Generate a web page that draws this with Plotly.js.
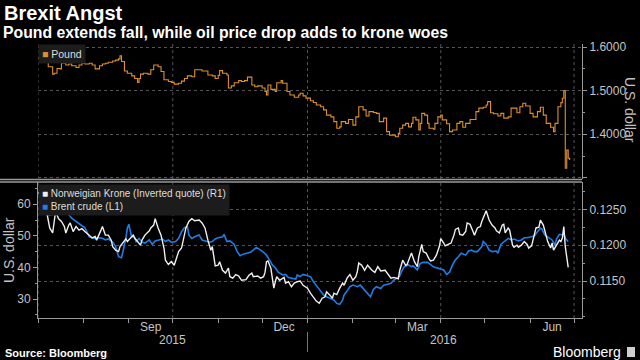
<!DOCTYPE html>
<html>
<head>
<meta charset="utf-8">
<script src="https://cdn.plot.ly/plotly-3.0.1.min.js"></script>
<style>html,body{margin:0;padding:0;background:#000;}#chart{width:640px;height:360px;}</style>
</head>
<body>
<div id="chart"></div>
<script>
// ---------------- DATA ----------------
const poundDates = ['2015-07-01','2015-07-04','2015-07-08','2015-07-11','2015-07-12','2015-07-14','2015-07-16','2015-07-17','2015-07-20','2015-07-22','2015-07-24','2015-07-27','2015-07-29','2015-07-31',
'2015-08-02','2015-08-05','2015-08-07','2015-08-09','2015-08-12','2015-08-14','2015-08-16','2015-08-18','2015-08-21','2015-08-23','2015-08-25','2015-08-26','2015-08-27','2015-08-29','2015-08-31',
'2015-09-03','2015-09-05','2015-09-07','2015-09-08','2015-09-09','2015-09-11','2015-09-14','2015-09-16','2015-09-18','2015-09-21','2015-09-23','2015-09-25','2015-09-28','2015-09-30',
'2015-10-02','2015-10-05','2015-10-07','2015-10-09','2015-10-11','2015-10-14','2015-10-16','2015-10-18','2015-10-21','2015-10-23','2015-10-25','2015-10-28','2015-10-30',
'2015-11-01','2015-11-02','2015-11-04','2015-11-07','2015-11-08','2015-11-10','2015-11-12','2015-11-15','2015-11-17','2015-11-19','2015-11-21','2015-11-24','2015-11-26','2015-11-28',
'2015-12-01','2015-12-03','2015-12-04','2015-12-05','2015-12-07','2015-12-10','2015-12-11','2015-12-14','2015-12-15','2015-12-18','2015-12-20','2015-12-22','2015-12-23','2015-12-26','2015-12-27','2015-12-29','2015-12-31',
'2016-01-03','2016-01-05','2016-01-07','2016-01-10','2016-01-12','2016-01-14','2016-01-17','2016-01-19','2016-01-21','2016-01-23','2016-01-24','2016-01-27','2016-01-29',
'2016-02-01','2016-02-03','2016-02-05','2016-02-08','2016-02-10','2016-02-12','2016-02-15','2016-02-17','2016-02-19','2016-02-22','2016-02-24','2016-02-26','2016-02-29',
'2016-03-01','2016-03-03','2016-03-04','2016-03-06','2016-03-08','2016-03-10','2016-03-12','2016-03-13','2016-03-15','2016-03-17','2016-03-18','2016-03-19','2016-03-21','2016-03-23','2016-03-24','2016-03-27','2016-03-28','2016-03-30',
'2016-04-01','2016-04-02','2016-04-05','2016-04-07','2016-04-09','2016-04-12','2016-04-14','2016-04-16','2016-04-18','2016-04-21','2016-04-23','2016-04-25','2016-04-27','2016-04-30',
'2016-05-02','2016-05-03','2016-05-05','2016-05-07','2016-05-10','2016-05-12','2016-05-14','2016-05-17','2016-05-19','2016-05-21','2016-05-23','2016-05-25','2016-05-27','2016-05-29',
'2016-06-01','2016-06-03','2016-06-06','2016-06-08','2016-06-10','2016-06-12','2016-06-15','2016-06-17','2016-06-18','2016-06-20','2016-06-22','2016-06-23','2016-06-24','2016-06-25','2016-06-26','2016-06-27','2016-06-28'];
const poundValues = [1.574,1.567,1.555,1.538,1.540,1.551,1.550,1.563,1.559,1.561,1.557,1.553,1.559,1.563,
1.561,1.563,1.559,1.550,1.557,1.561,1.563,1.565,1.568,1.570,1.573,1.580,1.567,1.545,1.540,
1.534,1.528,1.519,1.528,1.538,1.540,1.538,1.548,1.559,1.555,1.544,1.525,1.521,1.519,
1.515,1.517,1.522,1.528,1.534,1.532,1.548,1.548,1.545,1.545,1.536,1.534,1.528,
1.535,1.546,1.540,1.536,1.506,1.511,1.518,1.523,1.521,1.523,1.531,1.513,1.509,1.511,
1.506,1.498,1.490,1.513,1.503,1.498,1.518,1.523,1.517,1.498,1.490,1.490,1.485,1.490,1.494,1.488,1.483,
1.477,1.473,1.467,1.463,1.456,1.444,1.440,1.429,1.414,1.417,1.429,1.425,1.434,
1.421,1.440,1.463,1.456,1.442,1.452,1.450,1.448,1.429,1.437,1.406,1.398,1.398,
1.3945,1.402,1.414,1.421,1.425,1.417,1.425,1.439,1.433,1.410,1.425,1.448,1.444,1.425,1.414,1.4115,1.425,1.440,
1.444,1.433,1.424,1.406,1.410,1.425,1.429,1.416,1.425,1.434,1.434,1.452,1.460,1.462,
1.467,1.475,1.4495,1.447,1.442,1.448,1.437,1.440,1.460,1.460,1.4495,1.463,1.471,1.465,
1.448,1.440,1.452,1.462,1.444,1.425,1.416,1.406,1.425,1.463,1.4725,1.4826,1.500,1.322,1.364,1.345,1.341];

const brentDates = ['2015-07-01','2015-07-04','2015-07-06','2015-07-08','2015-07-11','2015-07-13','2015-07-15','2015-07-17','2015-07-20','2015-07-22','2015-07-24','2015-07-27','2015-07-29','2015-07-31',
'2015-08-02','2015-08-05','2015-08-07','2015-08-09','2015-08-12','2015-08-14','2015-08-16','2015-08-18','2015-08-21','2015-08-23','2015-08-25','2015-08-27','2015-08-28','2015-08-30','2015-08-31',
'2015-09-01','2015-09-03','2015-09-04','2015-09-06','2015-09-08','2015-09-10','2015-09-12','2015-09-15','2015-09-17','2015-09-19','2015-09-21','2015-09-24','2015-09-26','2015-09-28','2015-09-30',
'2015-10-03','2015-10-05','2015-10-07','2015-10-09','2015-10-11','2015-10-12','2015-10-14','2015-10-16','2015-10-19','2015-10-21','2015-10-23','2015-10-26','2015-10-28','2015-10-30',
'2015-11-01','2015-11-04','2015-11-05','2015-11-07','2015-11-09','2015-11-12','2015-11-14','2015-11-16','2015-11-18','2015-11-21','2015-11-23','2015-11-25','2015-11-27','2015-11-29',
'2015-12-01','2015-12-04','2015-12-05','2015-12-08','2015-12-10','2015-12-12','2015-12-15','2015-12-17','2015-12-19','2015-12-21','2015-12-24','2015-12-25','2015-12-27','2015-12-29',
'2016-01-01','2016-01-03','2016-01-05','2016-01-07','2016-01-10','2016-01-12','2016-01-14','2016-01-17','2016-01-19','2016-01-21','2016-01-23','2016-01-25','2016-01-26','2016-01-28','2016-01-30',
'2016-02-01','2016-02-04','2016-02-06','2016-02-08','2016-02-11','2016-02-13','2016-02-15','2016-02-17','2016-02-20','2016-02-22','2016-02-24','2016-02-27','2016-02-29',
'2016-03-02','2016-03-04','2016-03-05','2016-03-07','2016-03-10','2016-03-12','2016-03-13','2016-03-16','2016-03-18','2016-03-20','2016-03-23','2016-03-25','2016-03-27','2016-03-29',
'2016-04-01','2016-04-03','2016-04-05','2016-04-07','2016-04-09','2016-04-11','2016-04-13','2016-04-15','2016-04-18','2016-04-20','2016-04-22','2016-04-24','2016-04-26','2016-04-29','2016-04-30',
'2016-05-02','2016-05-04','2016-05-06','2016-05-09','2016-05-10','2016-05-12','2016-05-14','2016-05-17','2016-05-19','2016-05-21','2016-05-24','2016-05-26','2016-05-28','2016-05-30',
'2016-06-02','2016-06-04','2016-06-06','2016-06-08','2016-06-09','2016-06-11','2016-06-13','2016-06-16','2016-06-18','2016-06-19','2016-06-21','2016-06-23','2016-06-24','2016-06-25','2016-06-27'];
const brentValues = [63.8,61.9,59.6,56.6,56.8,58.2,57.5,57.9,57.1,56.8,55.6,54.5,53.7,53.2,
52.6,49.7,49.4,49.2,49.4,49.2,48.7,49.0,48.0,46.6,43.4,43.1,45.0,49.2,52.4,
53.7,49.4,50.3,48.2,49.2,48.0,47.7,48.7,47.3,48.4,48.7,49.0,48.2,48.7,48.0,
48.2,49.2,51.3,52.6,52.9,50.3,49.2,49.7,50.3,48.7,48.4,48.0,48.2,49.0,
49.4,49.7,50.5,48.2,48.4,47.3,45.0,43.7,44.2,44.5,44.8,45.5,46.3,45.8,
45.2,43.9,43.1,40.8,39.9,38.5,37.6,37.8,36.8,36.6,36.3,37.6,37.1,37.8,
37.4,37.1,35.5,34.4,32.5,31.3,30.7,30.2,29.7,28.6,28.3,29.7,31.3,32.5,33.9,
34.4,33.9,34.4,33.3,31.8,30.7,33.0,33.9,33.3,34.4,34.6,35.0,36.0,
36.6,37.3,38.5,40.2,40.8,40.2,40.5,39.2,41.3,41.6,41.6,40.8,40.2,39.9,
39.5,39.2,37.8,38.5,40.8,42.4,43.4,44.5,43.9,45.2,45.5,45.0,45.0,46.6,48.2,
47.3,45.5,45.0,45.2,44.5,47.3,48.0,49.2,48.7,49.0,48.4,48.7,49.4,49.4,
49.7,50.0,51.3,52.4,52.2,50.3,49.7,48.7,47.1,49.0,50.5,50.3,50.8,49.2,48.2];

const kroneDates = ['2015-07-01','2015-07-04','2015-07-06','2015-07-08','2015-07-09','2015-07-11','2015-07-12','2015-07-13','2015-07-15','2015-07-17','2015-07-19','2015-07-20','2015-07-22','2015-07-23','2015-07-25','2015-07-27','2015-07-29','2015-07-31',
'2015-08-02','2015-08-05','2015-08-07','2015-08-09','2015-08-10','2015-08-13','2015-08-14','2015-08-16','2015-08-18','2015-08-20','2015-08-21','2015-08-23','2015-08-25','2015-08-26','2015-08-28','2015-08-30','2015-08-31',
'2015-09-02','2015-09-04','2015-09-05','2015-09-07','2015-09-09','2015-09-10','2015-09-12','2015-09-15','2015-09-16','2015-09-18','2015-09-19','2015-09-21','2015-09-23','2015-09-25','2015-09-26','2015-09-28','2015-09-30',
'2015-10-02','2015-10-03','2015-10-05','2015-10-07','2015-10-08','2015-10-10','2015-10-12','2015-10-14','2015-10-16','2015-10-19','2015-10-21','2015-10-23','2015-10-25','2015-10-27','2015-10-28','2015-10-30',
'2015-11-01','2015-11-02','2015-11-04','2015-11-06','2015-11-08','2015-11-09','2015-11-11','2015-11-13','2015-11-15','2015-11-17','2015-11-20','2015-11-22','2015-11-24','2015-11-25','2015-11-28','2015-11-30',
'2015-12-02','2015-12-03','2015-12-04','2015-12-05','2015-12-07','2015-12-08','2015-12-09','2015-12-10','2015-12-11','2015-12-13','2015-12-16','2015-12-17','2015-12-19','2015-12-21','2015-12-23','2015-12-25','2015-12-27','2015-12-29',
'2016-01-01','2016-01-03','2016-01-05','2016-01-07','2016-01-09','2016-01-11','2016-01-13','2016-01-14','2016-01-16','2016-01-18','2016-01-19','2016-01-21','2016-01-23','2016-01-25','2016-01-26','2016-01-28','2016-01-30',
'2016-02-01','2016-02-03','2016-02-04','2016-02-05','2016-02-07','2016-02-09','2016-02-11','2016-02-14','2016-02-16','2016-02-18','2016-02-20','2016-02-23','2016-02-25','2016-02-27','2016-02-29',
'2016-03-03','2016-03-04','2016-03-06','2016-03-08','2016-03-09','2016-03-11','2016-03-12','2016-03-14','2016-03-16','2016-03-17','2016-03-19','2016-03-20','2016-03-22','2016-03-24','2016-03-25','2016-03-27','2016-03-29','2016-03-31',
'2016-04-01','2016-04-03','2016-04-04','2016-04-06','2016-04-08','2016-04-10','2016-04-11','2016-04-13','2016-04-14','2016-04-16','2016-04-18','2016-04-19','2016-04-21','2016-04-23','2016-04-24','2016-04-26','2016-04-28','2016-04-29',
'2016-05-01','2016-05-02','2016-05-04','2016-05-06','2016-05-08','2016-05-09','2016-05-11','2016-05-13','2016-05-14','2016-05-15','2016-05-17','2016-05-18','2016-05-20','2016-05-21','2016-05-23','2016-05-24','2016-05-26','2016-05-28','2016-05-30','2016-05-31',
'2016-06-02','2016-06-04','2016-06-05','2016-06-07','2016-06-08','2016-06-10','2016-06-12','2016-06-13','2016-06-15','2016-06-16','2016-06-17','2016-06-19','2016-06-21','2016-06-22','2016-06-23','2016-06-24','2016-06-25','2016-06-27'];
const kroneValues = [0.1274,0.1266,0.1256,0.1237,0.1224,0.1217,0.1233,0.1247,0.1237,0.1233,0.1226,0.1217,0.1228,0.1231,0.1219,0.1226,0.1221,0.1223,
0.1219,0.1214,0.1210,0.1212,0.1207,0.1221,0.1226,0.1214,0.1214,0.1207,0.1198,0.1193,0.1191,0.1198,0.1203,0.1209,0.1205,
0.1210,0.1214,0.1210,0.1205,0.1200,0.1207,0.1214,0.1220,0.1224,0.1228,0.1237,0.1224,0.1214,0.1196,0.1179,0.1173,0.1177,
0.1172,0.1179,0.1191,0.1196,0.1207,0.1224,0.1233,0.1237,0.1234,0.1235,0.1231,0.1224,0.1207,0.1193,0.1198,0.1171,
0.1172,0.1177,0.1165,0.1161,0.1168,0.1156,0.1154,0.1159,0.1157,0.1151,0.1152,0.1158,0.1161,0.1156,0.1157,0.1154,
0.1156,0.1162,0.1177,0.1178,0.1168,0.1154,0.1140,0.1149,0.1156,0.1151,0.1155,0.1147,0.1149,0.1142,0.1147,0.1149,0.1150,0.1144,
0.1140,0.1133,0.1128,0.1122,0.1119,0.1126,0.1128,0.1135,0.1131,0.1126,0.1133,0.1131,0.1140,0.1147,0.1144,0.1154,0.1159,
0.1151,0.1156,0.1163,0.1175,0.1172,0.1165,0.1172,0.1165,0.1162,0.1170,0.1164,0.1165,0.1159,0.1154,0.1155,
0.1153,0.1165,0.1179,0.1172,0.1173,0.1184,0.1189,0.1177,0.1170,0.1184,0.1201,0.1191,0.1189,0.1181,0.1178,0.1179,0.1186,0.1198,
0.1209,0.1203,0.1199,0.1201,0.1203,0.1214,0.1222,0.1224,0.1215,0.1214,0.1219,0.1231,0.1229,0.1219,0.1214,0.1224,0.1226,0.1233,
0.1242,0.1248,0.1235,0.1228,0.1224,0.1220,0.1217,0.1228,0.1229,0.1217,0.1224,0.1221,0.1200,0.1197,0.1200,0.1197,0.1200,0.1205,0.1201,0.1196,
0.1199,0.1214,0.1224,0.1225,0.1235,0.1228,0.1214,0.1205,0.1196,0.1203,0.1193,0.1200,0.1207,0.1205,0.1210,0.1226,0.1198,0.1169];

// axis ticks and labels
const monthStarts = ['2015-07-01','2015-08-01','2015-09-01','2015-10-01','2015-11-01','2015-12-01','2016-01-01','2016-02-01','2016-03-01','2016-04-01','2016-05-01','2016-06-01','2016-07-01'];
const quarterStarts = ['2015-07-01','2015-10-01','2016-01-01','2016-04-01','2016-07-01'];
const monthLabelPos = ['2015-09-16','2015-12-16','2016-03-16','2016-06-16'];
const monthLabels = ['Sep','Dec','Mar','Jun'];
const yearLabels = ['2015','2016'];
const yearLabelPos = ['2015-09-30 12:00','2016-04-03'];
const yearBreak = '2016-01-01';
const poundTicks = [1.3,1.4,1.5,1.6];
const poundTickText = ['','1.4000','1.5000','1.6000'];
const brentTicks = [30,40,50,60];
const kroneTicks = [0.115,0.12,0.125];

// ---------------- LAYOUT ----------------
const FONT = 'Liberation Sans, Arial, sans-serif';
const W = 640, H = 360, L = 38, R = 58, T = 44, B = 42;
const PW = W - L - R, PH = H - T - B;
const px = x => (x - L) / PW;
const py = y => (H - B - y) / PH;

const C_POUND = '#dd8f2c', C_BRENT = '#1f7de3', C_KRONE = '#f0f0f0';
const AXIS = '#9a9a9a', GRID = '#555555', TICKC = '#c4c4c4';

const traces = [
  {x: poundDates, y: poundValues, xaxis: 'x', yaxis: 'y2', type: 'scatter', mode: 'lines',
   line: {color: C_POUND, width: 1.1, shape: 'hv'}, showlegend: false, hoverinfo: 'skip'},
  {x: brentDates, y: brentValues, xaxis: 'x', yaxis: 'y', type: 'scatter', mode: 'lines',
   line: {color: C_BRENT, width: 1.6}, showlegend: false, hoverinfo: 'skip'},
  {x: kroneDates, y: kroneValues, xaxis: 'x', yaxis: 'y3', type: 'scatter', mode: 'lines',
   line: {color: C_KRONE, width: 1.4}, showlegend: false, hoverinfo: 'skip'}
];

const tickFont = {family: FONT, size: 12, color: TICKC};

const shapes = [];
quarterStarts.forEach(q => {
  shapes.push({type: 'line', xref: 'x', yref: 'y2 domain', x0: q, x1: q, y0: 0, y1: 1, layer: 'below',
               line: {color: GRID, width: 1, dash: 'dot'}});
  shapes.push({type: 'line', xref: 'x', yref: 'y domain', x0: q, x1: q, y0: 0, y1: 1, layer: 'below',
               line: {color: GRID, width: 1, dash: 'dot'}});
});
// panel separator (double line)
shapes.push({type: 'line', xref: 'paper', yref: 'paper', x0: px(0), x1: 1, y0: py(179.5), y1: py(179.5), line: {color: AXIS, width: 1.3}});
shapes.push({type: 'line', xref: 'paper', yref: 'paper', x0: px(0), x1: 1, y0: py(182), y1: py(182), line: {color: AXIS, width: 1.3}});
// year separator
shapes.push({type: 'line', xref: 'x', yref: 'paper', x0: yearBreak, x1: yearBreak, y0: py(332), y1: py(352), line: {color: '#777', width: 1}});
// logo mark
shapes.push({type: 'rect', xref: 'paper', yref: 'paper', x0: px(627), x1: px(635), y0: py(357), y1: py(347), fillcolor: '#cfcfcf', line: {width: 0}});

const annotations = [
  {text: '<b>Brexit Angst</b>', xref: 'paper', yref: 'paper', x: px(2), y: py(13), xanchor: 'left', yanchor: 'middle', showarrow: false,
   font: {family: FONT, size: 20, color: '#ffffff'}},
  {text: '<b>Pound extends fall, while oil price drop adds to krone woes</b>', xref: 'paper', yref: 'paper', x: px(1), y: py(32), xanchor: 'left', yanchor: 'middle', showarrow: false,
   font: {family: FONT, size: 15.8, color: '#ffffff'}},
  {text: '<span style="color:' + C_POUND + '">■</span> Pound', xref: 'paper', yref: 'paper', x: px(38), y: py(44), xanchor: 'left', yanchor: 'top', showarrow: false,
   bgcolor: '#1c1c1c', borderpad: 3, font: {family: FONT, size: 10.5, color: '#dddddd'}},
  {text: '<span style="color:' + C_KRONE + '">■</span> Norweigian Krone (Inverted quote) (R1)<br><span style="color:' + C_BRENT + '">■</span> Brent crude (L1)',
   xref: 'paper', yref: 'paper', x: px(38), y: py(184), xanchor: 'left', yanchor: 'top', align: 'left', showarrow: false,
   bgcolor: '#1c1c1c', borderpad: 3, font: {family: FONT, size: 10, color: '#dddddd'}},
  {text: 'U.S. dollar', xref: 'paper', yref: 'paper', x: px(630), y: py(110), xanchor: 'center', yanchor: 'middle', textangle: 90, showarrow: false,
   font: {family: FONT, size: 14, color: TICKC}},
  {text: 'U.S. dollar', xref: 'paper', yref: 'paper', x: px(9), y: py(250), xanchor: 'center', yanchor: 'middle', textangle: -90, showarrow: false,
   font: {family: FONT, size: 14, color: TICKC}},
  {text: '<b>Source: Bloomberg</b>', xref: 'paper', yref: 'paper', x: px(3), y: py(353), xanchor: 'left', yanchor: 'middle', showarrow: false,
   font: {family: FONT, size: 11, color: '#ffffff'}},
  {text: 'Bloomberg', xref: 'paper', yref: 'paper', x: px(623), y: py(352), xanchor: 'right', yanchor: 'middle', showarrow: false,
   font: {family: FONT, size: 14, color: '#ffffff'}}
];
yearLabels.forEach((t, i) => annotations.push({text: t, xref: 'x', yref: 'paper', x: yearLabelPos[i], y: py(340), xanchor: 'center', yanchor: 'middle', showarrow: false,
  font: {family: FONT, size: 12, color: TICKC}}));

const layout = {
  width: W, height: H,
  margin: {l: L, r: R, t: T, b: B, pad: 0},
  paper_bgcolor: '#000000', plot_bgcolor: '#000000',
  showlegend: false,
  font: {family: FONT, color: TICKC},
  xaxis: {
    type: 'date', range: ['2015-07-01', '2016-07-06 10:00'], anchor: 'y',
    tickmode: 'array', tickvals: monthLabelPos, ticktext: monthLabels, ticks: '',
    showgrid: false, zeroline: false, showline: true, linecolor: AXIS, linewidth: 1,
    tickfont: tickFont, ticklabelstandoff: -2,
    minor: {tickmode: 'array', tickvals: monthStarts, ticks: 'outside', ticklen: 4, tickcolor: AXIS, showgrid: false},
    fixedrange: true
  },
  yaxis: {
    domain: [0, py(182)], range: [23.98, 67.06], side: 'left', anchor: 'x',
    tickmode: 'array', tickvals: brentTicks, ticks: 'outside', ticklen: 4, tickcolor: AXIS,
    showline: true, linecolor: AXIS, showgrid: false, zeroline: false, tickfont: tickFont,
    minor: {dtick: 5, ticks: 'outside', ticklen: 2, tickcolor: AXIS, showgrid: false},
    fixedrange: true
  },
  yaxis2: {
    domain: [py(179), 1], range: [1.2975, 1.607], side: 'right', anchor: 'x',
    tickmode: 'array', tickvals: poundTicks, ticktext: poundTickText, ticks: 'outside', ticklen: 4, tickcolor: AXIS,
    showline: true, linecolor: AXIS, showgrid: true, gridcolor: GRID, griddash: 'dot', zeroline: false, tickfont: tickFont,
    minor: {dtick: 0.05, ticks: 'outside', ticklen: 2, tickcolor: AXIS, showgrid: false},
    fixedrange: true
  },
  yaxis3: {
    overlaying: 'y', range: [0.10984, 0.12881], side: 'right', anchor: 'x',
    tickmode: 'array', tickvals: kroneTicks, tickformat: '.4f', ticks: 'outside', ticklen: 4, tickcolor: AXIS,
    showline: true, linecolor: AXIS, showgrid: true, gridcolor: GRID, griddash: 'dot', zeroline: false, tickfont: tickFont,
    minor: {dtick: 0.0025, ticks: 'outside', ticklen: 2, tickcolor: AXIS, showgrid: false},
    fixedrange: true
  },
  shapes: shapes,
  annotations: annotations
};

Plotly.newPlot('chart', traces, layout, {displayModeBar: false, staticPlot: true});
</script>
</body>
</html>
